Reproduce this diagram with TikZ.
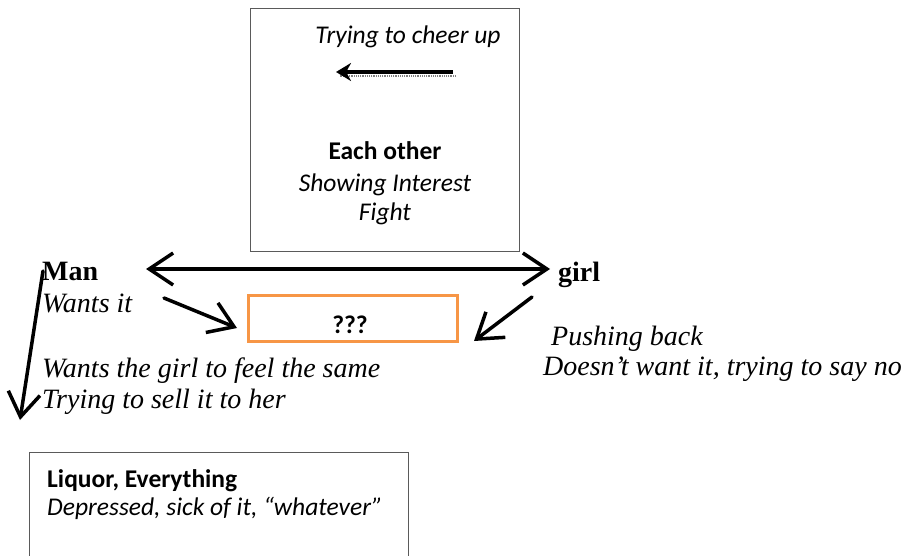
\documentclass[tikz,border=0pt]{standalone}
\usepackage{fontspec}
\setmainfont{Liberation Serif}
\newfontfamily\calib{Carlito}
\usetikzlibrary{arrows.meta}
\definecolor{boxorange}{HTML}{F79646}
\definecolor{boxgray}{HTML}{5A5A5A}
\tikzset{
  calibtext/.style={font=\calib\fontsize{25.5}{30}\selectfont, inner sep=0pt},
  serieftext/.style={font=\fontsize{28}{32}\selectfont, inner sep=0pt},
  barbtip/.tip={Straight Barb[length=24pt,width=32pt,line width=3.5pt]},
  bigarrow/.style={line width=3.5pt, line cap=round, -barbtip},
  bigarrowboth/.style={line width=3.5pt, line cap=round, barbtip-barbtip},
  plainbox/.style={draw=boxgray, line width=0.8pt},
}
\begin{document}
\begin{tikzpicture}[x=1pt,y=-1pt]
\useasboundingbox (0,0) rectangle (905,556);
% top box
\draw[plainbox] (250,8) rectangle (519,251);
\node[calibtext, anchor=base] (cheer) at (408,44) {\itshape Trying to cheer up};
\coordinate (cheerA) at (453,72);
\coordinate (cheerB) at (336,72);
\draw[gray, densely dotted, line width=1.2pt] (456,76) -- (340,76);
\draw[line width=4pt, -{Stealth[length=15pt,width=18pt]}] (cheerA) -- (cheerB);
\node[calibtext, anchor=base] (each) at (385,160) {\bfseries Each other};
\node[calibtext, anchor=base] (show) at (385,192) {\itshape Showing Interest};
\node[calibtext, anchor=base] (fight) at (385,221) {\itshape Fight};
% man side
\node[serieftext, anchor=base west] (man) at (42,280) {\bfseries Man};
\node[serieftext, anchor=base west] (wants) at (42,312) {\itshape Wants it};
\node[serieftext, anchor=base west] (same) at (42,377) {\itshape Wants the girl to feel the same};
\node[serieftext, anchor=base west] (sell) at (42,408) {\itshape Trying to sell it to her};
% girl side
\node[serieftext, anchor=base west] (girl) at (558,281) {\bfseries girl};
\node[serieftext, anchor=base west] (push) at (551,345) {\itshape Pushing back};
\node[serieftext, anchor=base west] (doesnt) at (543,375) {\itshape Doesn’t want it, trying to say no};
% orange box
\node[draw=boxorange, line width=3pt, minimum width=209pt, minimum height=46pt, inner sep=0pt] (q) at (352.5,318) {};
\node[calibtext, anchor=base] (qtext) at (350,333) {\bfseries ???};
% bottom box
\draw[plainbox] (29,600) -- (29,452) -- (408,452) -- (408,600);
\node[calibtext, anchor=base west] (liq) at (47,487) {\bfseries Liquor, Everything};
\node[calibtext, anchor=base west] (dep) at (47,515) {\itshape Depressed, sick of it, “whatever”};
% arrows
\coordinate (dl) at (146,269);
\coordinate (dr) at (550,269);
\draw[bigarrowboth] (dl) -- (dr);
\coordinate (wa) at (164,298);
\coordinate (wb) at (237,328);
\draw[bigarrow] (wa) -- (wb);
\coordinate (ga) at (532,297);
\coordinate (gb) at (474,341);
\draw[bigarrow] (ga) -- (gb);
\coordinate (ma) at (43,271);
\coordinate (mb) at (20,420);
\draw[bigarrow] (ma) -- (mb);
\end{tikzpicture}
\end{document}
